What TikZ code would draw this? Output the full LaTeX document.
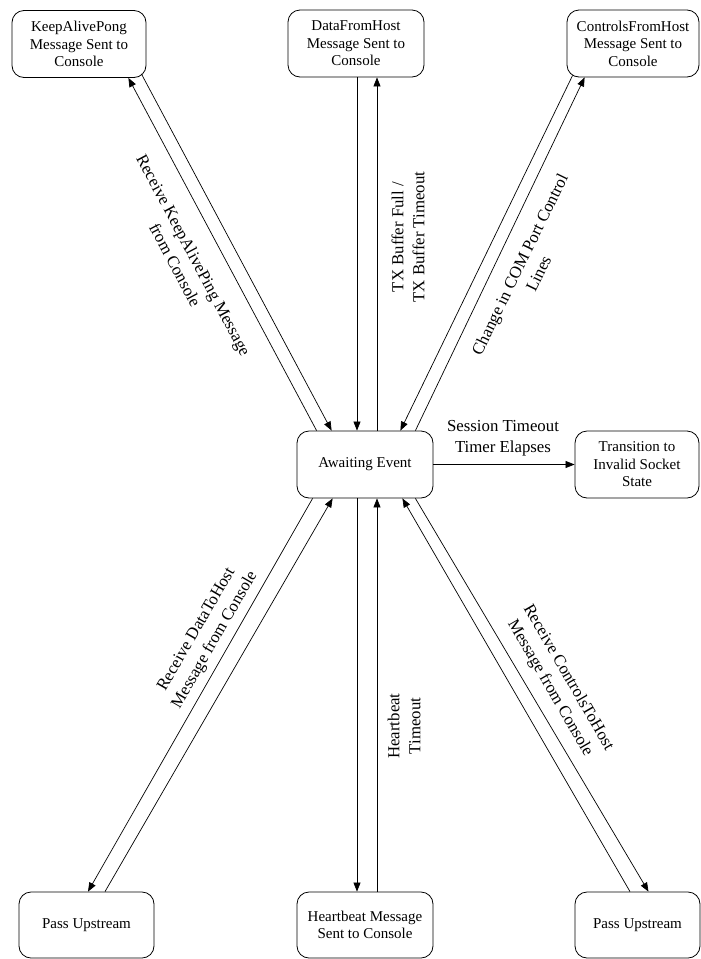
\documentclass[tikz,border=0pt]{standalone}
\usepackage{fontspec}
\setmainfont{Liberation Serif}
\usetikzlibrary{arrows.meta,calc}
\begin{document}
\begin{tikzpicture}[x=1pt,y=-1pt,
  state/.style={draw, line width=0.8pt, rounded corners=12pt, align=center,
    minimum height=67pt, inner sep=2pt,
    font=\fontsize{15}{17.5}\selectfont},
  lbl/.style={align=center, inner sep=0pt, font=\fontsize{16.8}{21}\selectfont},
  flow/.style={line width=0.7pt, -{Triangle[length=9pt,width=7pt]}}]
\useasboundingbox (0,0) rectangle (701,959);

% states
\node[state, minimum width=134pt] (kap) at (79,44) {KeepAlivePong\\Message Sent to\\Console};
\node[state, minimum width=136pt] (dfh) at (356,43.5) {DataFromHost\\Message Sent to\\Console};
\node[state, minimum width=132pt] (cfh) at (633,43.5) {ControlsFromHost\\Message Sent to\\Console};
\node[state, minimum width=136pt] (wait) at (365,464.5) {Awaiting Event};
\node[state, minimum width=124pt] (inv) at (637,464.5) {Transition to\\Invalid Socket\\State};
\node[state, minimum width=135pt, minimum height=66pt] (pul) at (86.5,925) {Pass Upstream};
\node[state, minimum width=136pt, minimum height=66pt] (hb) at (365,925) {Heartbeat Message\\Sent to Console};
\node[state, minimum width=125pt, minimum height=66pt] (pur) at (637.5,925) {Pass Upstream};

% KeepAlive pair
\draw[flow] ($(wait.north west)+(20,0)$) -- ($(kap.south east)+(-18,0)$);
\draw[flow] ($(kap.south east)+(-5,-4)$) -- ($(wait.north west)+(35,0)$);
% DataFromHost pair
\draw[flow] ($(dfh.south)+(1,0)$) -- ($(wait.north)+(-8,0)$);
\draw[flow] ($(wait.north)+(12,0)$) -- ($(dfh.south)+(21,0)$);
% ControlsFromHost pair
\draw[flow] ($(cfh.south west)+(6,-2)$) -- ($(wait.north east)+(-33,0)$);
\draw[flow] ($(wait.north east)+(-18,0)$) -- ($(cfh.south west)+(18,0)$);
% session timeout
\draw[flow] (wait.east) -- (inv.west);
% DataToHost pair
\draw[flow] ($(wait.south west)+(16,0)$) -- ($(pul.north)+(1.5,0)$);
\draw[flow] ($(pul.north)+(18.5,0)$) -- ($(wait.south west)+(36,0)$);
% heartbeat pair
\draw[flow] ($(wait.south)+(-8,0)$) -- ($(hb.north)+(-8,0)$);
\draw[flow] ($(hb.north)+(12,0)$) -- ($(wait.south)+(12,0)$);
% ControlsToHost pair
\draw[flow] ($(pur.north)+(-7.5,0)$) -- ($(wait.south east)+(-31,0)$);
\draw[flow] ($(wait.south east)+(-18,0)$) -- ($(pur.north)+(11,0)$);

% transition labels
\node[lbl, rotate=-62] (l1) at (184.5,260) {Receive KeepAlivePing Message\\from Console};
\node[lbl, rotate=90] (l2) at (408,237) {TX Buffer Full /\\TX Buffer Timeout};
\node[lbl, rotate=64] (l3) at (529,269) {Change in COM Port Control\\Lines};
\node[lbl] (l4) at (503,438) {Session Timeout\\Timer Elapses};
\node[lbl, rotate=60] (l5) at (206,635) {Receive DataToHost\\Message from Console};
\node[lbl, rotate=90] (l6) at (404,726) {Heartbeat\\Timeout};
\node[lbl, rotate=-60] (l7) at (559,683) {Receive ControlsToHost\\Message from Console};
\end{tikzpicture}
\end{document}
